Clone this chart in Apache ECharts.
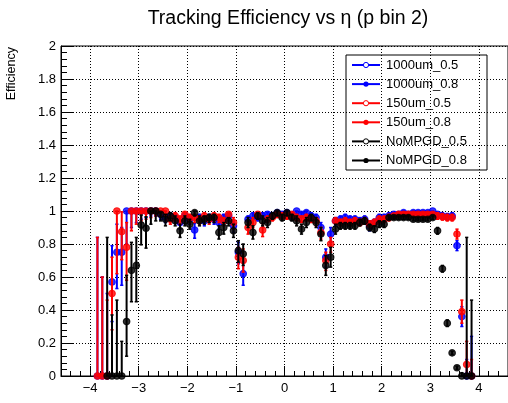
<!DOCTYPE html>
<html><head><meta charset="utf-8">
<script src="https://cdn.jsdelivr.net/npm/echarts@6/dist/echarts.min.js"></script>
<style>html,body{margin:0;padding:0;background:#fff}#c{width:508px;height:403px}</style>
</head><body><div id="c"></div>
<script>
// ---------------- data ----------------
const titleText = 'Tracking Efficiency vs \u03b7 (p bin 2)';
const yTitle = 'Efficiency';
const seriesNames = ['1000um_0.5','1000um_0.8','150um_0.5','150um_0.8','NoMPGD_0.5','NoMPGD_0.8'];
const seriesColors = ['#0000ff','#0000ff','#ff0000','#ff0000','#000000','#000000'];
const seriesOpen = [true,false,true,false,true,false];

const etaBins = [
 -3.95,-3.85,-3.75,-3.65,-3.55,-3.45,-3.35,-3.25,-3.15,-3.05,
 -2.95,-2.85,-2.75,-2.65,-2.55,-2.45,-2.35,-2.25,-2.15,-2.05,
 -1.95,-1.85,-1.75,-1.65,-1.55,-1.45,-1.35,-1.25,-1.15,-1.05,
 -0.95,-0.85,-0.75,-0.65,-0.55,-0.45,-0.35,-0.25,-0.15,-0.05,
  0.05, 0.15, 0.25, 0.35, 0.45, 0.55, 0.65, 0.75, 0.85, 0.95,
  1.05, 1.15, 1.25, 1.35, 1.45, 1.55, 1.65, 1.75, 1.85, 1.95,
  2.05, 2.15, 2.25, 2.35, 2.45, 2.55, 2.65, 2.75, 2.85, 2.95,
  3.05, 3.15, 3.25, 3.35, 3.45, 3.55, 3.65, 3.75, 3.85, 3.95];

// 1000um
const eff1000_08 = [
 null,0,0,0,0.57,0.75,0.75,1.0,1.0,1.0,
 1.0,1.0,1.0,1.0,0.98,0.96,0.97,0.96,0.93,0.97,
 0.95,0.885,0.96,0.94,0.96,0.95,0.93,0.96,0.97,0.91,
 0.75,0.62,0.95,0.97,0.96,0.97,0.98,0.97,0.99,0.98,
 0.99,0.97,1.0,0.98,0.99,0.97,0.96,0.90,0.72,0.86,
 0.94,0.95,0.96,0.95,0.95,0.94,0.95,0.91,0.93,0.96,
 0.96,0.97,0.98,0.98,0.99,0.98,0.99,0.99,0.99,0.99,
 1.0,0.98,0.97,0.965,0.97,0.79,0.36,0,0,null];
const eff1000_05 = [
 null,0,0,0,0.57,0.75,0.75,1.0,1.0,1.0,
 1.0,1.0,1.0,1.0,0.98,0.96,0.97,0.96,0.93,0.97,
 0.95,0.885,0.96,0.94,0.96,0.95,0.93,0.96,0.97,0.91,
 0.75,0.62,0.95,0.97,0.96,0.97,0.98,0.97,0.99,0.98,
 0.99,0.97,1.0,0.98,0.99,0.97,0.96,0.90,0.72,0.86,
 0.94,0.95,0.96,0.95,0.95,0.94,0.95,0.91,0.93,0.96,
 0.96,0.97,0.98,0.98,0.99,0.98,0.99,0.99,0.99,0.99,
 1.0,0.98,0.97,0.965,0.97,0.79,0.36,0,0,null];
const errLo1000 = [
 null,0,0,0,0.24,0.22,0.2,0.2,0.1,0.07,
 0.05,0.04,0.03,0.03,0.03,0.03,0.03,0.03,0.04,0.03,
 0.03,0.05,0.03,0.03,0.03,0.03,0.04,0.03,0.03,0.04,
 0.07,0.07,0.03,0.02,0.02,0.02,0.02,0.02,0.02,0.02,
 0.02,0.02,0.02,0.02,0.02,0.02,0.03,0.04,0.06,0.05,
 0.03,0.02,0.02,0.02,0.02,0.02,0.02,0.03,0.02,0.02,
 0.02,0.02,0.01,0.01,0.01,0.01,0.01,0.01,0.01,0.01,
 0.01,0.02,0.02,0.02,0.02,0.03,0.06,0,0,null];
const errHi1000 = [
 null,0.84,0.6,0.5,0.22,0.17,0.15,0,0,0,
 0,0,0,0,0.01,0.02,0.02,0.02,0.03,0.02,
 0.02,0.04,0.02,0.02,0.02,0.02,0.03,0.02,0.02,0.03,
 0.06,0.07,0.02,0.02,0.02,0.02,0.01,0.02,0.01,0.01,
 0.01,0.02,0,0.01,0.01,0.02,0.02,0.03,0.05,0.04,
 0.02,0.02,0.02,0.02,0.02,0.02,0.02,0.03,0.02,0.02,
 0.02,0.02,0.01,0.01,0.01,0.01,0.01,0.01,0.01,0.01,
 0,0.01,0.02,0.02,0.02,0.03,0.06,0.1,0.24,null];

// 150um
const eff150_08 = [
 null,0,0,0,0.5,1.0,0.875,0.78,1.0,1.0,
 1.0,1.0,1.0,1.0,1.0,1.0,0.95,0.97,0.95,0.98,
 0.96,0.96,0.95,0.97,0.95,0.97,0.96,0.94,0.98,0.93,
 0.72,0.70,0.90,0.93,0.98,0.885,0.95,0.96,0.98,0.97,
 0.97,0.98,0.96,0.95,0.96,0.95,0.94,0.87,0.70,0.80,
 0.94,0.93,0.94,0.93,0.94,0.93,0.94,0.92,0.93,0.95,
 0.95,0.96,0.97,0.98,0.98,0.98,0.98,0.98,0.98,0.98,
 0.98,0.97,0.965,0.96,0.96,0.86,0.39,0.07,0,null];
const eff150_05 = [
 null,0,0,0,0.5,1.0,0.875,0.78,1.0,1.0,
 1.0,1.0,1.0,1.0,1.0,1.0,0.95,0.97,0.95,0.98,
 0.96,0.96,0.95,0.97,0.95,0.97,0.96,0.94,0.98,0.93,
 0.72,0.70,0.90,0.93,0.98,0.885,0.95,0.96,0.98,0.97,
 0.97,0.98,0.96,0.95,0.96,0.95,0.94,0.87,0.70,0.80,
 0.94,0.93,0.94,0.93,0.94,0.93,0.94,0.92,0.93,0.95,
 0.95,0.96,0.97,0.98,0.98,0.98,0.98,0.98,0.98,0.98,
 0.98,0.97,0.965,0.96,0.96,0.86,0.39,0.07,0,null];
const errLo150 = [
 null,0,0,0,0.22,0.38,0.17,0.2,0.12,0.08,
 0.06,0.05,0.04,0.03,0.03,0.03,0.03,0.03,0.03,0.02,
 0.03,0.03,0.03,0.03,0.03,0.03,0.03,0.03,0.02,0.04,
 0.07,0.07,0.04,0.03,0.02,0.04,0.02,0.02,0.02,0.02,
 0.02,0.02,0.02,0.02,0.02,0.02,0.03,0.04,0.06,0.05,
 0.02,0.02,0.02,0.02,0.02,0.02,0.02,0.02,0.02,0.02,
 0.02,0.02,0.01,0.01,0.01,0.01,0.01,0.01,0.01,0.01,
 0.01,0.02,0.02,0.02,0.02,0.03,0.07,0.07,0,null];
const errHi150 = [
 null,0.84,0.6,0.46,0.22,0,0.12,0.15,0,0,
 0,0,0,0,0,0,0.02,0.02,0.02,0.01,
 0.02,0.02,0.02,0.02,0.02,0.02,0.02,0.02,0.01,0.03,
 0.06,0.07,0.03,0.03,0.01,0.04,0.02,0.02,0.01,0.02,
 0.02,0.01,0.02,0.02,0.02,0.02,0.02,0.03,0.05,0.04,
 0.02,0.02,0.02,0.02,0.02,0.02,0.02,0.02,0.02,0.02,
 0.02,0.02,0.01,0.01,0.01,0.01,0.01,0.01,0.01,0.01,
 0.01,0.02,0.02,0.02,0.02,0.03,0.07,0.14,0.1,null];

// NoMPGD
const effNo_08 = [
 null,null,null,0,0,0,0,0.33,0.64,0.67,
 0.915,0.895,1.0,1.0,0.98,0.95,0.97,0.94,0.88,0.94,
 0.92,0.99,0.94,0.95,0.96,0.96,0.87,0.90,0.94,0.88,
 0.76,0.74,0.93,0.87,0.97,0.94,0.93,0.97,0.99,0.96,
 0.99,0.96,0.94,0.89,0.93,0.96,0.93,0.86,0.67,0.72,
 0.89,0.91,0.91,0.91,0.91,0.93,0.94,0.90,0.89,0.92,
 0.92,0.96,0.96,0.96,0.96,0.96,0.95,0.95,0.95,0.95,
 0.96,0.88,0.65,0.32,0.14,0.05,0,0,0,null];
const effNo_05 = [
 null,null,null,0,0,0,0,0.33,0.64,0.67,
 0.915,0.895,1.0,1.0,0.98,0.95,0.97,0.94,0.88,0.94,
 0.92,0.99,0.94,0.95,0.96,0.96,0.87,0.90,0.94,0.88,
 0.76,0.74,0.93,0.87,0.97,0.94,0.93,0.97,0.99,0.96,
 0.99,0.96,0.94,0.89,0.93,0.96,0.93,0.86,0.67,0.72,
 0.89,0.91,0.91,0.91,0.91,0.93,0.94,0.90,0.89,0.92,
 0.92,0.96,0.96,0.96,0.96,0.96,0.95,0.95,0.95,0.95,
 0.96,0.88,0.65,0.32,0.14,0.05,0,0,0,null];
const errLoNo = [
 null,null,null,0,0,0,0,0.21,0.19,0.22,
 0.12,0.12,0.08,0.06,0.04,0.04,0.03,0.03,0.04,0.03,
 0.03,0.02,0.03,0.03,0.03,0.03,0.04,0.04,0.03,0.04,
 0.07,0.07,0.03,0.04,0.02,0.03,0.03,0.02,0.02,0.02,
 0.02,0.02,0.03,0.03,0.03,0.02,0.03,0.04,0.06,0.06,
 0.03,0.02,0.02,0.02,0.02,0.02,0.02,0.02,0.02,0.02,
 0.02,0.01,0.01,0.01,0.01,0.01,0.01,0.01,0.01,0.01,
 0.01,0.02,0.02,0.02,0.01,0.01,0,0,0,null];
const errHiNo = [
 null,null,null,0.84,0.37,0.46,0.21,0.28,0.17,0.17,
 0.06,0.07,0,0,0.01,0.03,0.02,0.03,0.04,0.03,
 0.03,0.01,0.03,0.02,0.02,0.02,0.04,0.03,0.02,0.04,
 0.06,0.06,0.03,0.04,0.02,0.03,0.03,0.02,0.01,0.02,
 0.01,0.02,0.03,0.03,0.03,0.02,0.03,0.04,0.06,0.06,
 0.03,0.02,0.02,0.02,0.02,0.02,0.02,0.02,0.02,0.02,
 0.02,0.01,0.01,0.01,0.01,0.01,0.01,0.01,0.01,0.01,
 0.01,0.02,0.02,0.02,0.01,0.01,0.02,0.84,0.46,null];

const xTicks = [-4,-3,-2,-1,0,1,2,3,4];
const yTicks = [0,0.2,0.4,0.6,0.8,1,1.2,1.4,1.6,1.8,2];

// ---------------- chart ----------------
const FONT = '"Liberation Sans", Arial, Helvetica, sans-serif';
const effValues = [eff1000_05, eff1000_08, eff150_05, eff150_08, effNo_05, effNo_08];
const errLows = [null, errLo1000, null, errLo150, null, errLoNo];
const errHighs = [null, errHi1000, null, errHi150, null, errHiNo];

function points(vals) {
  const out = [];
  etaBins.forEach((x, i) => { if (vals[i] != null) out.push([x, vals[i]]); });
  return out;
}
function errPoints(vals, lo, hi) {
  const out = [];
  etaBins.forEach((x, i) => {
    if (vals[i] != null) out.push([x, vals[i] - lo[i], vals[i] + hi[i]]);
  });
  return out;
}

const series = [];
let z = 2;
seriesNames.forEach((name, k) => {
  const color = seriesColors[k];
  if (errLows[k]) {
    series.push({
      type: 'custom', name: name + '_err', silent: true, z: z++,
      data: errPoints(effValues[k], errLows[k], errHighs[k]),
      encode: { x: 0, y: [1, 2] },
      renderItem: function (params, api) {
        const x = api.value(0), lo = api.value(1), hi = api.value(2);
        if (!(hi - lo > 0)) return null;
        const a = api.coord([x, lo]), b = api.coord([x, hi]);
        const c = 1.6;
        return { type: 'group', children: [
          { type: 'line', shape: { x1: a[0], y1: a[1], x2: b[0], y2: b[1] }, style: { stroke: color, lineWidth: 2 } },
          { type: 'line', shape: { x1: a[0] - c, y1: a[1], x2: a[0] + c, y2: a[1] }, style: { stroke: color, lineWidth: 1.5 } },
          { type: 'line', shape: { x1: b[0] - c, y1: b[1], x2: b[0] + c, y2: b[1] }, style: { stroke: color, lineWidth: 1.5 } }
        ]};
      }
    });
  }
  series.push({
    type: 'scatter', name: name, z: z++, clip: false,
    data: points(effValues[k]),
    symbol: 'circle', symbolSize: 6.5,
    itemStyle: seriesOpen[k]
      ? { color: 'rgba(0,0,0,0)', borderColor: color, borderWidth: 1.2 }
      : { color: color, borderWidth: 0 },
    emphasis: { disabled: true }
  });
});

// legend drawn as graphic
const legX = 346, legY = 55, legW = 141, legH = 115, rowH = 19.1;
const legendChildren = [
  { type: 'rect', shape: { x: legX, y: legY, width: legW, height: legH },
    style: { fill: '#fff', stroke: '#000', lineWidth: 1 } }
];
seriesNames.forEach((name, k) => {
  const cy = legY + 10 + k * rowH;
  const color = seriesColors[k];
  legendChildren.push({ type: 'line', shape: { x1: 352, y1: cy, x2: 380, y2: cy }, style: { stroke: color, lineWidth: 2 } });
  legendChildren.push({ type: 'circle', shape: { cx: 366, cy: cy, r: 2.6 },
    style: seriesOpen[k] ? { fill: '#fff', stroke: color, lineWidth: 1 } : { fill: color } });
  legendChildren.push({ type: 'text', x: 386, y: cy,
    style: { text: name, fill: '#000', font: '13px ' + FONT, textVerticalAlign: 'middle', verticalAlign: 'middle' } });
});

const chart = echarts.init(document.getElementById('c'), null, { renderer: 'canvas' });
chart.setOption({
  animation: false,
  backgroundColor: '#fff',
  grid: { left: 61, top: 46, width: 452, height: 330, show: true, borderColor: '#000', borderWidth: 1, backgroundColor: 'transparent' },
  xAxis: {
    type: 'value', min: -4.6, max: 4.6, splitNumber: 10,
    axisLine: { show: true, onZero: false, lineStyle: { color: '#000', width: 1 } },
    axisTick: { show: true, inside: true, length: 10, lineStyle: { color: '#000', width: 1 } },
    minorTick: { show: true, splitNumber: 5, length: 5, lineStyle: { color: '#000', width: 1 } },
    axisLabel: {
      show: true, margin: 6, color: '#000', fontSize: 13, fontFamily: FONT,
      showMinLabel: false, showMaxLabel: false,
      formatter: v => xTicks.indexOf(v) >= 0 ? String(v).replace('-', '\u2212') : ''
    },
    splitLine: { show: true, lineStyle: { color: '#000', width: 1, type: [1, 2] } }
  },
  yAxis: {
    type: 'value', min: yTicks[0], max: yTicks[yTicks.length - 1], interval: 0.2,
    axisLine: { show: true, onZero: false, lineStyle: { color: '#000', width: 1 } },
    axisTick: { show: true, inside: true, length: 12, lineStyle: { color: '#000', width: 1 } },
    minorTick: { show: true, splitNumber: 5, length: 6, lineStyle: { color: '#000', width: 1 } },
    axisLabel: { show: true, margin: 5, color: '#000', fontSize: 13, fontFamily: FONT,
      formatter: v => String(Math.round(v * 10) / 10) },
    splitLine: { show: true, lineStyle: { color: '#000', width: 1, type: [1, 2] } }
  },
  graphic: [
    { type: 'text', x: 288, y: 19, z: 100,
      style: { text: titleText, fill: '#000', font: '19.5px ' + FONT, textAlign: 'center', textVerticalAlign: 'middle', align: 'center', verticalAlign: 'middle' } },
    { type: 'text', x: 12, y: 47, rotation: Math.PI / 2, z: 100,
      style: { text: yTitle, fill: '#000', font: '12.5px ' + FONT, textAlign: 'right', textVerticalAlign: 'middle', align: 'right', verticalAlign: 'middle' } },
    { type: 'group', z: 100, children: legendChildren }
  ],
  series: series
});
</script>
</body></html>
